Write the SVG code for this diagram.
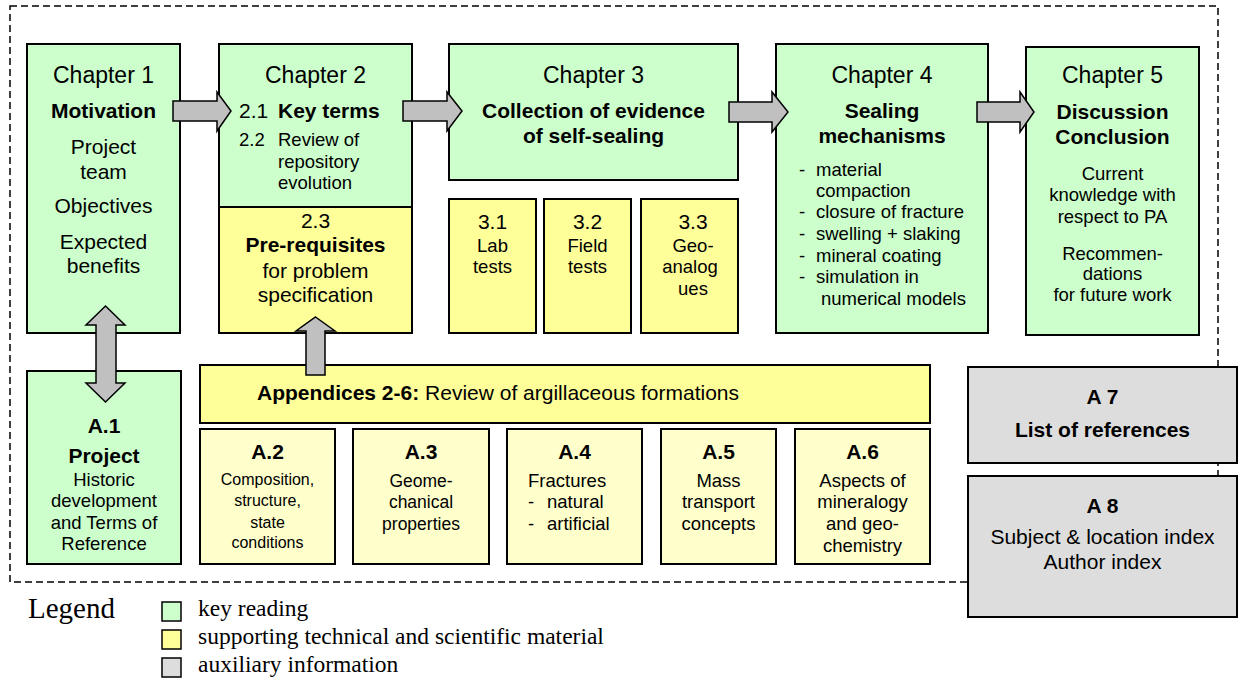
<svg xmlns="http://www.w3.org/2000/svg" width="1238" height="682" viewBox="0 0 1238 682">
<style>
text{font-family:"Liberation Sans",Arial,sans-serif;fill:#000}
.c{text-anchor:middle}
.h{font-size:23px}
.b{font-weight:bold;font-size:21px}
.r{font-size:21px}
.s{font-size:18.5px}
.xs{font-size:16px}
.leg{font-family:"Liberation Serif","Times New Roman",serif}
.box{stroke:#000;stroke-width:2}
.g{fill:#CCFFCC}
.y{fill:#FFFF99}
.py{fill:#FFFFCC}
.gr{fill:#DDDDDD}
.arr{fill:#C0C0C0;stroke:#000;stroke-width:1.5;stroke-linejoin:miter}
</style>
<rect id="frame" x="10" y="6" width="1208" height="576" fill="none" stroke="#000" stroke-width="1.5" stroke-dasharray="7 4"/>

<g id="ch1">
<rect class="box g" x="27" y="44" width="153" height="289"/>
<text class="c h" x="103.5" y="83">Chapter 1</text>
<text class="c b" x="103.5" y="118">Motivation</text>
<text class="c r" x="103.5" y="154">Project</text>
<text class="c r" x="103.5" y="179">team</text>
<text class="c r" x="103.5" y="213">Objectives</text>
<text class="c r" x="103.5" y="249">Expected</text>
<text class="c r" x="103.5" y="273">benefits</text>
</g>

<g id="ch2">
<rect class="box g" x="219" y="44" width="193" height="163"/>
<text class="c h" x="315.5" y="83">Chapter 2</text>
<text class="r" x="239" y="118">2.1</text>
<text class="b" x="278" y="118">Key terms</text>
<text class="s" x="239" y="146">2.2</text>
<text class="s" x="278" y="146">Review of</text>
<text class="s" x="278" y="168">repository</text>
<text class="s" x="278" y="189">evolution</text>
</g>

<g id="ch2-3">
<rect class="box y" x="219" y="207" width="193" height="126"/>
<text class="c r" x="315.5" y="228">2.3</text>
<text class="c b" x="315.5" y="252">Pre-requisites</text>
<text class="c r" x="315.5" y="278">for problem</text>
<text class="c r" x="315.5" y="302">specification</text>
</g>

<g id="ch3">
<rect class="box g" x="449" y="44" width="289" height="136"/>
<text class="c h" x="593.5" y="83">Chapter 3</text>
<text class="c b" x="593.5" y="118">Collection of evidence</text>
<text class="c b" x="593.5" y="143">of self-sealing</text>
</g>

<g id="ch3-1">
<rect class="box y" x="449" y="199" width="87" height="134"/>
<text class="c r" x="492.5" y="229">3.1</text>
<text class="c s" x="492.5" y="252">Lab</text>
<text class="c s" x="492.5" y="273">tests</text>
</g>
<g id="ch3-2">
<rect class="box y" x="544" y="199" width="87" height="134"/>
<text class="c r" x="587.5" y="229">3.2</text>
<text class="c s" x="587.5" y="252">Field</text>
<text class="c s" x="587.5" y="273">tests</text>
</g>
<g id="ch3-3">
<rect class="box y" x="641" y="199" width="97" height="134"/>
<text class="c r" x="693" y="229">3.3</text>
<text class="c s" x="693" y="252">Geo-</text>
<text class="c s" x="690" y="273">analog</text>
<text class="c s" x="693" y="295">ues</text>
</g>

<g id="ch4">
<rect class="box g" x="776" y="44" width="212" height="289"/>
<text class="c h" x="882" y="83">Chapter 4</text>
<text class="c b" x="882" y="118">Sealing</text>
<text class="c b" x="882" y="143">mechanisms</text>
<text class="s" x="799" y="176">-</text><text class="s" x="816" y="176">material</text>
<text class="s" x="816" y="197">compaction</text>
<text class="s" x="799" y="218">-</text><text class="s" x="816" y="218">closure of fracture</text>
<text class="s" x="799" y="240">-</text><text class="s" x="816" y="240">swelling + slaking</text>
<text class="s" x="799" y="262">-</text><text class="s" x="816" y="262">mineral coating</text>
<text class="s" x="799" y="283">-</text><text class="s" x="816" y="283">simulation in</text>
<text class="s" x="821" y="305">numerical models</text>
</g>

<g id="ch5">
<rect class="box g" x="1026" y="47" width="173" height="288"/>
<text class="c h" x="1112.5" y="83">Chapter 5</text>
<text class="c b" x="1112.5" y="119">Discussion</text>
<text class="c b" x="1112.5" y="144">Conclusion</text>
<text class="c s" x="1112.5" y="180">Current</text>
<text class="c s" x="1112.5" y="201">knowledge with</text>
<text class="c s" x="1112.5" y="223">respect to PA</text>
<text class="c s" x="1112.5" y="260">Recommen-</text>
<text class="c s" x="1112.5" y="280">dations</text>
<text class="c s" x="1112.5" y="301">for future work</text>
</g>

<g id="a1">
<rect class="box g" x="27" y="371" width="154" height="193"/>
<text class="c b" x="104" y="433">A.1</text>
<text class="c b" x="104" y="463">Project</text>
<text class="c s" x="104" y="486">Historic</text>
<text class="c s" x="104" y="507">development</text>
<text class="c s" x="104" y="529">and Terms of</text>
<text class="c s" x="104" y="550">Reference</text>
</g>

<g id="app">
<rect class="box y" x="200" y="365" width="730" height="58"/>
<text class="r" x="257" y="400"><tspan font-weight="bold">Appendices 2-6:</tspan> Review of argillaceous formations</text>
</g>

<g id="a2">
<rect class="box py" x="200" y="429" width="135" height="135"/>
<text class="c b" x="267.5" y="459">A.2</text>
<text class="c xs" x="267.5" y="485">Composition,</text>
<text class="c xs" x="267.5" y="506">structure,</text>
<text class="c xs" x="267.5" y="528">state</text>
<text class="c xs" x="267.5" y="548">conditions</text>
</g>
<g id="a3">
<rect class="box py" x="353" y="429" width="136" height="135"/>
<text class="c b" x="421" y="459">A.3</text>
<text class="c" style="font-size:17.5px" x="421" y="487">Geome-</text>
<text class="c" style="font-size:17.5px" x="421" y="508">chanical</text>
<text class="c" style="font-size:17.5px" x="421" y="530">properties</text>
</g>
<g id="a4">
<rect class="box py" x="507" y="429" width="135" height="135"/>
<text class="c b" x="574.5" y="459">A.4</text>
<text class="s" x="528" y="487">Fractures</text>
<text class="s" x="528" y="508">-</text><text class="s" x="547" y="508">natural</text>
<text class="s" x="528" y="530">-</text><text class="s" x="547" y="530">artificial</text>
</g>
<g id="a5">
<rect class="box py" x="661" y="429" width="115" height="135"/>
<text class="c b" x="718.5" y="459">A.5</text>
<text class="c s" x="718.5" y="487">Mass</text>
<text class="c s" x="718.5" y="508">transport</text>
<text class="c s" x="718.5" y="530">concepts</text>
</g>
<g id="a6">
<rect class="box py" x="795" y="429" width="135" height="135"/>
<text class="c b" x="862.5" y="459">A.6</text>
<text class="c s" x="862.5" y="487">Aspects of</text>
<text class="c s" x="862.5" y="508">mineralogy</text>
<text class="c s" x="862.5" y="530">and geo-</text>
<text class="c s" x="862.5" y="552">chemistry</text>
</g>

<g id="a7">
<rect class="box gr" x="968" y="367" width="269" height="96"/>
<text class="c b" x="1102.5" y="404">A 7</text>
<text class="c b" x="1102.5" y="437">List of references</text>
</g>
<g id="a8">
<rect class="box gr" x="968" y="476" width="269" height="141"/>
<text class="c b" x="1102.5" y="513">A 8</text>
<text class="c r" x="1102.5" y="544">Subject &amp; location index</text>
<text class="c r" x="1102.5" y="569">Author index</text>
</g>

<g id="connectors">
<path class="arr" d="M173,101 H217 V92 L231,111 L217,131 V121 H173 Z"/>
<path class="arr" d="M403,101 H447 V92 L462,111 L447,131 V121 H403 Z"/>
<path class="arr" d="M729,102 H772 V92 L788,112 L772,132 V122 H729 Z"/>
<path class="arr" d="M977,102 H1020 V92 L1034,112 L1020,132 V122 H977 Z"/>
<path class="arr" d="M105.5,306 L125,325 H116 V383 H125 L105.5,402 L86,383 H96 V325 H86 Z"/>
<path class="arr" d="M315.5,317 L335,331 H325 V375 H306 V331 H296 Z"/>
</g>

<g id="legend">
<text class="leg" style="font-size:29px" x="28" y="618">Legend</text>
<rect class="g" x="162" y="602" width="19" height="19" stroke="#000" stroke-width="1.5"/>
<rect class="y" x="162" y="630" width="19" height="19" stroke="#000" stroke-width="1.5"/>
<rect class="gr" x="162" y="658" width="19" height="19" stroke="#000" stroke-width="1.5"/>
<text class="leg" style="font-size:23.5px" x="198" y="616">key reading</text>
<text class="leg" style="font-size:23.5px" x="198" y="644">supporting technical and scientific material</text>
<text class="leg" style="font-size:23.5px" x="198" y="672">auxiliary information</text>
</g>
</svg>
